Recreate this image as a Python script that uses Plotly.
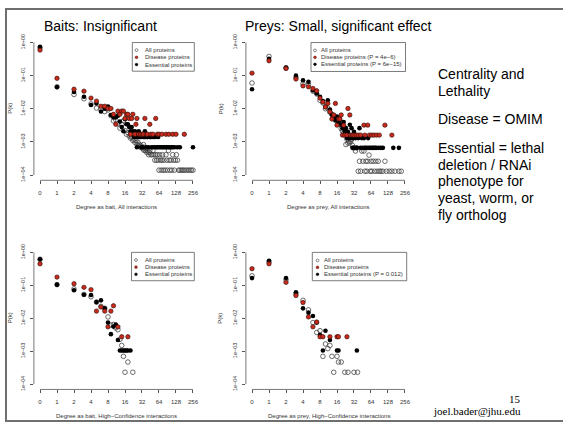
import math
import plotly.graph_objects as go

# ---------------- data (degree k, fraction P(k)) ----------------
x_tick_labels = ["0", "1", "2", "4", "8", "16", "32", "64", "128", "256"]
y_tick_vals = [1, 0.1, 0.01, 0.001, 0.0001]
y_tick_labels = ["1e+00", "1e\u221201", "1e\u221202", "1e\u221203", "1e\u221204"]

# Top-left: bait, all interactions
tl_all_k = [0, 1, 2, 3, 4, 5, 6, 7, 8, 9,
            10, 11, 12, 13, 14, 15, 16, 17, 18, 19,
            20, 21, 22, 23, 24, 25, 26, 27, 28, 29,
            30, 31, 32, 33, 34, 35, 36, 37, 38, 39,
            40, 42, 43, 44, 46, 48, 50, 52, 54, 56,
            58, 60, 62, 64, 66, 68, 70, 72, 74, 76,
            78, 82, 85, 88, 90, 94, 97, 100, 104, 108,
            112, 116, 120, 125, 130, 136, 142, 150, 160, 170,
            180, 195, 210, 225, 240, 256]
tl_all_p = [0.69, 0.046, 0.027, 0.020, 0.014, 0.0105, 0.0095, 0.0082, 0.0092, 0.0062,
            0.0043, 0.0046, 0.0035, 0.0026, 0.0034, 0.0043, 0.0022, 0.0017, 0.0019, 0.0015,
            0.0013, 0.0014, 0.0011, 0.0012, 0.00097, 0.0011, 0.00083, 0.00097, 0.00076, 0.00083,
            0.00069, 0.00076, 0.00069, 0.00062, 0.00083, 0.00055, 0.00069, 0.00055, 0.00062, 0.00048,
            0.00055, 0.00041, 0.00048, 0.00055, 0.00041, 0.00041, 0.00055, 0.00041, 0.00028, 0.00041,
            0.00028, 0.00041, 0.00028, 0.00014, 0.00041, 0.00028, 0.00014, 0.00028, 0.00041, 0.00014,
            0.00028, 0.00014, 0.00041, 0.00028, 0.00014, 0.00055, 0.00028, 0.00014, 0.00028, 0.00014,
            0.00041, 0.00028, 0.00014, 0.00028, 0.00041, 0.00028, 0.00014, 0.00014, 0.00014, 0.00014,
            0.00014, 0.00014, 0.00014, 0.00014, 0.00014, 0.00014]
tl_ess_k = [0, 1, 2, 3, 4, 5, 6, 7, 8, 9,
            10, 11, 12, 13, 14, 15, 16, 17, 18, 19,
            20, 21, 22, 23, 24, 25, 26, 27, 28, 29,
            30, 31, 32, 33, 34, 35, 36, 37, 38, 39,
            40, 42, 44, 45, 47, 48, 50, 52, 54, 55,
            58, 60, 62, 64, 68, 72, 76, 80, 85, 90,
            96, 100, 106, 112, 120, 135, 150, 256]
tl_ess_p = [0.74, 0.045, 0.032, 0.023, 0.013, 0.0145, 0.0083, 0.0100, 0.0117, 0.0065,
            0.0055, 0.0055, 0.0062, 0.0041, 0.0028, 0.0021, 0.0048, 0.0034, 0.0034, 0.0028,
            0.0021, 0.0028, 0.0021, 0.0014, 0.0021, 0.0014, 0.00069, 0.0014, 0.0021, 0.0014,
            0.0014, 0.00069, 0.0014, 0.00069, 0.0014, 0.0014, 0.0021, 0.0014, 0.00069, 0.0014,
            0.0014, 0.00069, 0.0014, 0.0014, 0.00069, 0.0014, 0.00069, 0.0014, 0.00069, 0.0014,
            0.00069, 0.00069, 0.0014, 0.00069, 0.00069, 0.00069, 0.00069, 0.00069, 0.00069, 0.00069,
            0.00069, 0.00069, 0.00069, 0.00069, 0.00069, 0.00069, 0.00069, 0.00069]
tl_dis_k = [0, 1, 2, 3, 4, 5, 6, 7, 8, 9,
            10, 11, 12, 13, 14, 15, 16, 17, 18, 19,
            20, 21, 22, 24, 25, 26, 28, 30, 32, 34,
            36, 38, 40, 44, 46, 50, 56, 60, 64, 72,
            85, 96, 112, 128, 180]
tl_dis_p = [0.59, 0.083, 0.039, 0.034, 0.021, 0.017, 0.0119, 0.0119, 0.0102, 0.0102,
            0.0068, 0.0034, 0.0085, 0.0068, 0.0085, 0.0085, 0.0051, 0.0068, 0.0068, 0.0051,
            0.0017, 0.0051, 0.0068, 0.0017, 0.0034, 0.0051, 0.0017, 0.0017, 0.0017, 0.0017,
            0.0051, 0.0017, 0.0017, 0.0034, 0.0017, 0.0017, 0.0051, 0.0017, 0.0017, 0.0017,
            0.0017, 0.0017, 0.0017, 0.0017, 0.0017]

# Top-right: prey, all interactions
tr_all_k = [0, 1, 2, 3, 4, 5, 6, 7, 8, 9,
            10, 11, 12, 13, 14, 15, 16, 17, 18, 19,
            20, 21, 22, 23, 24, 25, 26, 27, 28, 29,
            30, 32, 34, 36, 38, 40, 42, 44, 46, 48,
            50, 52, 54, 56, 59, 62, 64, 66, 70, 74,
            78, 82, 86, 90, 96, 104, 113, 120, 135, 150,
            170, 200, 220]
tr_all_p = [0.060, 0.38, 0.17, 0.087, 0.057, 0.054, 0.034, 0.028, 0.018, 0.015,
            0.010, 0.0105, 0.0079, 0.0068, 0.0062, 0.0045, 0.0041, 0.0036, 0.0034, 0.0025,
            0.0021, 0.0018, 0.0016, 0.00083, 0.0012, 0.00092, 0.00105, 0.00092, 0.00105, 0.0012,
            0.00079, 0.00066, 0.00053, 0.00066, 0.00013, 0.00026, 0.00013, 0.00053, 0.00026, 0.00053,
            0.00013, 0.00026, 0.00013, 0.00026, 0.00040, 0.00013, 0.00026, 0.00013, 0.00026, 0.00013,
            0.00026, 0.00013, 0.00026, 0.00013, 0.00013, 0.00013, 0.00026, 0.00013, 0.00013, 0.00013,
            0.00013, 0.00013, 0.00013]
tr_ess_k = [0, 1, 2, 3, 4, 5, 6, 7, 8, 9,
            10, 11, 12, 13, 14, 15, 16, 17, 18, 19,
            20, 21, 22, 23, 24, 25, 26, 27, 28, 29,
            30, 31, 32, 33, 34, 36, 38, 40, 42, 44,
            46, 48, 50, 52, 56, 57, 60, 64, 68, 72,
            76, 80, 88, 96, 104, 159, 200]
tr_ess_p = [0.039, 0.32, 0.175, 0.10, 0.072, 0.065, 0.036, 0.029, 0.023, 0.017,
            0.0115, 0.018, 0.0095, 0.0066, 0.0058, 0.0046, 0.0058, 0.0040, 0.0046, 0.0033,
            0.0026, 0.0040, 0.0020, 0.0026, 0.0013, 0.0020, 0.0013, 0.0033, 0.0013, 0.0026,
            0.00066, 0.0013, 0.0020, 0.00066, 0.0013, 0.00066, 0.0013, 0.0026, 0.00066, 0.0013,
            0.00066, 0.0013, 0.00066, 0.00066, 0.00066, 0.0013, 0.00066, 0.00066, 0.00066, 0.00066,
            0.00066, 0.00066, 0.00066, 0.00066, 0.00066, 0.00066, 0.00066]
tr_dis_k = [0, 1, 2, 3, 4, 5, 6, 7, 8, 9,
            10, 11, 12, 13, 14, 15, 16, 17, 18, 19,
            20, 21, 22, 24, 25, 27, 28, 30, 32, 35,
            38, 42, 48, 50, 56, 60, 66, 72, 80, 90,
            113, 150]
tr_dis_p = [0.119, 0.28, 0.165, 0.079, 0.049, 0.046, 0.041, 0.035, 0.021, 0.016,
            0.0113, 0.0145, 0.0081, 0.0049, 0.0065, 0.0145, 0.0032, 0.0049, 0.0049, 0.0065,
            0.0016, 0.0032, 0.0016, 0.0016, 0.0102, 0.0065, 0.0016, 0.0016, 0.0016, 0.0016,
            0.0016, 0.0016, 0.0032, 0.0016, 0.0032, 0.0016, 0.0016, 0.0016, 0.0016, 0.0016,
            0.0032, 0.0016]

# Bottom-left: bait, high-confidence interactions
bl_all_k = [0, 1, 2, 3, 4, 5, 6, 7, 8, 9,
            10, 11, 12, 13, 14, 15, 16, 18, 22]
bl_all_p = [0.62, 0.105, 0.078, 0.053, 0.045, 0.031, 0.023, 0.020, 0.011, 0.0062,
            0.0065, 0.0051, 0.0045, 0.0023, 0.0015, 0.0007, 0.00023, 0.00047, 0.00023]
bl_ess_k = [0, 1, 2, 3, 4, 5, 6, 7, 8, 9,
            10, 11, 12, 13, 14, 15, 16, 17, 18, 20]
bl_ess_p = [0.62, 0.105, 0.071, 0.052, 0.051, 0.031, 0.035, 0.020, 0.0074, 0.0033,
            0.0056, 0.0065, 0.0022, 0.00105, 0.00105, 0.00105, 0.00105, 0.00105, 0.00105, 0.00105]
bl_dis_k = [0, 1, 2, 3, 4, 5, 6, 7, 8, 9,
            10, 12, 14, 18]
bl_dis_p = [0.45, 0.178, 0.112, 0.087, 0.074, 0.0165, 0.022, 0.0165, 0.0055, 0.0165,
            0.024, 0.0055, 0.00275, 0.00275]

# Bottom-right: prey, high-confidence interactions
br_all_k = [0, 1, 2, 3, 4, 5, 6, 7, 8, 9,
            10, 11, 12, 13, 14, 16, 17, 19, 22, 25,
            32, 37]
br_all_p = [0.195, 0.52, 0.148, 0.056, 0.035, 0.018, 0.0074, 0.0037, 0.0042, 0.0007,
            0.00166, 0.0012, 0.0015, 0.0007, 0.00023, 0.0007, 0.00047, 0.00047, 0.00023, 0.00023,
            0.00023, 0.00023]
br_ess_k = [0, 1, 2, 3, 4, 5, 6, 7, 8, 9,
            10, 12, 16, 17, 36]
br_ess_p = [0.166, 0.56, 0.166, 0.062, 0.020, 0.0148, 0.0117, 0.0074, 0.0031, 0.00105,
            0.0042, 0.0022, 0.00105, 0.00105, 0.00105]
br_dis_k = [0, 1, 2, 3, 4, 5, 6, 7, 8, 9,
            12, 16, 17, 24]
br_dis_p = [0.32, 0.45, 0.123, 0.049, 0.030, 0.011, 0.0055, 0.0077, 0.00275, 0.00275,
            0.00275, 0.00275, 0.00275, 0.00275]

titles = ["Baits: Insignificant", "Preys: Small, significant effect"]
x_titles = ["Degree as bait, All interactions", "Degree as prey, All interactions",
            "Degree as bait, High\u2212Confidence interactions",
            "Degree as prey, High\u2212Confidence interactions"]
legend_texts = [
    ["All proteins", "Disease proteins", "Essential proteins"],
    ["All proteins", "Disease proteins (P = 4e\u22126)", "Essential proteins (P = 6e\u221215)"],
    ["All proteins", "Disease proteins", "Essential proteins"],
    ["All proteins", "Disease proteins", "Essential proteins (P = 0.012)"],
]
side_lines = ["Centrality and", "Lethality", "Disease = OMIM", "Essential = lethal",
              "deletion / RNAi", "phenotype for", "yeast, worm, or", "fly ortholog"]

# ---------------- layout helpers ----------------
W, H = 563, 429
SANS = "Liberation Sans, Arial, Helvetica, sans-serif"
SERIF = "Liberation Serif, Times New Roman, serif"
RED = "#c92a1b"
AXC = "#555555"
XR = [-0.36, 9.36]
YR = [-4.16, 0.16]


def fx(px):
    return px / W


def fy(py):
    return 1 - py / H


def deg_pos(ks):
    # axis position: 0 for k=0, 1+log2(k) otherwise
    return [0 if k == 0 else 1 + math.log2(k) for k in ks]


panels = [
    dict(xd=(33.9, 199.1), yd=(34.6, 179.4),
         series=(tl_all_k, tl_all_p, tl_ess_k, tl_ess_p, tl_dis_k, tl_dis_p),
         leg=dict(box=(132.3, 194.3, 40, 69), rows=(47.7, 55, 62.3), sx=136.5, tx=143.5),
         ylab_x=10, ytitle_y=107),
    dict(xd=(245.9, 411.1), yd=(34.6, 179.4),
         series=(tr_all_k, tr_all_p, tr_ess_k, tr_ess_p, tr_dis_k, tr_dis_p),
         leg=dict(box=(311, 405.5, 40, 69.3), rows=(48, 55, 62), sx=315, tx=320),
         ylab_x=220.5, ytitle_y=107),
    dict(xd=(33.9, 199.1), yd=(247, 391),
         series=(bl_all_k, bl_all_p, bl_ess_k, bl_ess_p, bl_dis_k, bl_dis_p),
         leg=dict(box=(131.5, 194.3, 252.3, 281), rows=(260, 267.3, 274.5), sx=136, tx=143.5),
         ylab_x=10, ytitle_y=319),
    dict(xd=(245.9, 411.1), yd=(247, 391),
         series=(br_all_k, br_all_p, br_ess_k, br_ess_p, br_dis_k, br_dis_p),
         leg=dict(box=(312.3, 406.7, 252.3, 281), rows=(260.5, 267.5, 274.5), sx=317.5, tx=322.5),
         ylab_x=220.5, ytitle_y=319),
]

fig = go.Figure()
shapes = []
annotations = []
layout_axes = {}

for i, pnl in enumerate(panels):
    n = "" if i == 0 else str(i + 1)
    xa, ya = "x" + n, "y" + n
    a_k, a_p, e_k, e_p, d_k, d_p = pnl["series"]
    fig.add_trace(go.Scatter(
        x=deg_pos(a_k), y=a_p, mode="markers", xaxis=xa, yaxis=ya, showlegend=False,
        marker=dict(symbol="circle-open", size=4.6, color="#3c3c3c", line=dict(width=0.75))))
    fig.add_trace(go.Scatter(
        x=deg_pos(e_k), y=e_p, mode="markers", xaxis=xa, yaxis=ya, showlegend=False,
        marker=dict(symbol="circle", size=4.6, color="#000000", line=dict(width=0))))
    fig.add_trace(go.Scatter(
        x=deg_pos(d_k), y=d_p, mode="markers", xaxis=xa, yaxis=ya, showlegend=False,
        marker=dict(symbol="circle", size=4.4, color=RED, line=dict(width=0.6, color="#2a0c06"))))

    x0, x1 = pnl["xd"]
    y0, y1 = pnl["yd"]
    layout_axes["xaxis" + n] = dict(
        domain=[fx(x0), fx(x1)], range=XR, anchor=ya, showgrid=False, zeroline=False,
        showline=False, ticks="outside", ticklen=3, tickwidth=0.7, tickcolor=AXC,
        tickmode="array", tickvals=list(range(10)), ticktext=x_tick_labels,
        tickfont=dict(family=SANS, size=6, color="#333333"), ticklabelstandoff=3)
    layout_axes["yaxis" + n] = dict(
        domain=[fy(y1), fy(y0)], type="log", range=YR, anchor=xa, showgrid=False,
        zeroline=False, showline=False, ticks="outside", ticklen=3, tickwidth=0.7,
        tickcolor=AXC, tickmode="array", tickvals=y_tick_vals, ticktext=y_tick_labels,
        tickangle=-90, tickfont=dict(family=SANS, size=5.5, color="#333333"),
        ticklabelstandoff=3)

    # R-style axis lines spanning the tick range only
    shapes.append(dict(type="line", xref=xa, yref=ya + " domain", x0=0, x1=9, y0=0, y1=0,
                       line=dict(color=AXC, width=0.8)))
    yb = (-4 - YR[0]) / (YR[1] - YR[0])
    yt = (0 - YR[0]) / (YR[1] - YR[0])
    shapes.append(dict(type="line", xref=xa + " domain", yref=ya + " domain", x0=0, x1=0,
                       y0=yb, y1=yt, line=dict(color=AXC, width=0.8)))

    # axis titles
    annotations.append(dict(text=x_titles[i], x=fx((x0 + x1) / 2), y=fy(y1 + 26.5),
                            xref="paper", yref="paper", xanchor="center", yanchor="middle",
                            showarrow=False, font=dict(family=SANS, size=6, color="#333333")))
    annotations.append(dict(text="P(k)", x=fx(pnl["ylab_x"]), y=fy(pnl["ytitle_y"]),
                            xref="paper", yref="paper", xanchor="center", yanchor="middle",
                            textangle=-90, showarrow=False,
                            font=dict(family=SANS, size=6, color="#333333")))

    # legend box
    lg = pnl["leg"]
    bx0, bx1, by0, by1 = lg["box"]
    shapes.append(dict(type="rect", xref="paper", yref="paper", x0=fx(bx0), x1=fx(bx1),
                       y0=fy(by1), y1=fy(by0), line=dict(color="#444444", width=0.7),
                       fillcolor="white"))
    sym_styles = [dict(fillcolor="white", line=dict(color="#3c3c3c", width=0.6)),
                  dict(fillcolor=RED, line=dict(color="#2a0c06", width=0.4)),
                  dict(fillcolor="black", line=dict(color="black", width=0.4))]
    r = 1.4
    for j, ry in enumerate(lg["rows"]):
        st = sym_styles[j]
        shapes.append(dict(type="circle", xref="paper", yref="paper",
                           x0=fx(lg["sx"] - r), x1=fx(lg["sx"] + r),
                           y0=fy(ry + r), y1=fy(ry - r), **st))
        annotations.append(dict(text=legend_texts[i][j], x=fx(lg["tx"]), y=fy(ry),
                                xref="paper", yref="paper", xanchor="left", yanchor="middle",
                                showarrow=False, borderpad=0,
                                font=dict(family=SANS, size=6, color="#333333")))

# panel titles
annotations.append(dict(text=titles[0], x=fx(43), y=fy(23), xref="paper", yref="paper",
                        xanchor="left", yanchor="middle", showarrow=False, borderpad=0,
                        font=dict(family=SANS, size=14, color="black")))
annotations.append(dict(text=titles[1], x=fx(244), y=fy(23), xref="paper", yref="paper",
                        xanchor="left", yanchor="middle", showarrow=False, borderpad=0,
                        font=dict(family=SANS, size=14, color="black")))

# side text
side_y = [72, 89, 117, 147, 164, 180.5, 197, 214]
for t, yy in zip(side_lines, side_y):
    annotations.append(dict(text=t, x=fx(437), y=fy(yy), xref="paper", yref="paper",
                            xanchor="left", yanchor="middle", showarrow=False, borderpad=0,
                            font=dict(family=SANS, size=14, color="black")))

# footer
annotations.append(dict(text="15", x=fx(522), y=fy(400.5), xref="paper", yref="paper",
                        xanchor="right", yanchor="middle", showarrow=False, borderpad=0,
                        font=dict(family=SERIF, size=11, color="black")))
annotations.append(dict(text="joel.bader@jhu.edu", x=fx(522), y=fy(413), xref="paper",
                        yref="paper", xanchor="right", yanchor="middle", showarrow=False,
                        borderpad=0, font=dict(family=SERIF, size=11, color="black")))

# slide frame
BC = "#6f6f6f"
shapes.append(dict(type="line", xref="paper", yref="paper", x0=fx(5), x1=1, y0=fy(6), y1=fy(6),
                   line=dict(color=BC, width=2)))
shapes.append(dict(type="line", xref="paper", yref="paper", x0=fx(6), x1=fx(6), y0=fy(5),
                   y1=fy(423.5), line=dict(color=BC, width=2)))
shapes.append(dict(type="line", xref="paper", yref="paper", x0=fx(5), x1=1, y0=fy(423),
                   y1=fy(423), line=dict(color=BC, width=2)))

fig.update_layout(
    width=W, height=H, margin=dict(l=0, r=0, t=0, b=0),
    paper_bgcolor="white", plot_bgcolor="white", showlegend=False,
    shapes=shapes, annotations=annotations, **layout_axes)

fig.write_html("out.html")
